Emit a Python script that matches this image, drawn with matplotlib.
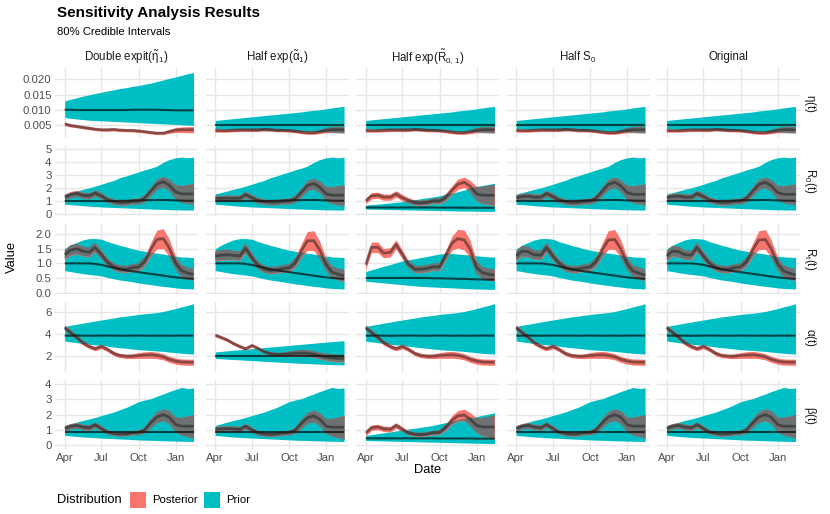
import matplotlib
matplotlib.use("Agg")
import matplotlib.pyplot as plt
import matplotlib.dates as mdates
from matplotlib.patches import Rectangle
import numpy as np
import pandas as pd

plt.rcParams["font.family"] = ["Liberation Sans", "DejaVu Sans"]
plt.rcParams["mathtext.fontset"] = "custom"
plt.rcParams["mathtext.rm"] = "Liberation Sans"
plt.rcParams["mathtext.it"] = "Liberation Sans:italic"
plt.rcParams["mathtext.bf"] = "Liberation Sans:bold"

# ---- data (semi-monthly) ----
dates = pd.to_datetime([
    "2020-04-01", "2020-04-15", "2020-05-01", "2020-05-15", "2020-06-01", "2020-06-15",
    "2020-07-01", "2020-07-15", "2020-08-01", "2020-08-15", "2020-09-01", "2020-09-15",
    "2020-10-01", "2020-10-15", "2020-11-01", "2020-11-15", "2020-12-01", "2020-12-15",
    "2021-01-01", "2021-01-15", "2021-02-01", "2021-02-14"])

col_labels = [r"Double expit$(\tilde{\mathrm{\eta}}_1)$", r"Half exp$(\tilde{\mathrm{\alpha}}_1)$",
              r"Half exp$(\tilde{\mathrm{R}}_{\mathrm{0,\,1}})$", r"Half $\mathrm{S_0}$", "Original"]
row_labels = [r"$\mathrm{\eta(t)}$", r"$\mathrm{R_0(t)}$", r"$\mathrm{R_t(t)}$",
              r"$\mathrm{\alpha(t)}$", r"$\mathrm{\beta(t)}$"]

# eta(t)
prior_eta_de_mid = [0.0101, 0.0101, 0.0100, 0.0100, 0.0100, 0.0100, 0.0100, 0.0100, 0.0100, 0.0100, 0.0100,
                    0.0101, 0.0101, 0.0101, 0.0101, 0.0101, 0.0100, 0.0100, 0.0099, 0.0099, 0.0099, 0.0099]
prior_eta_de_lo = [0.0076, 0.0073, 0.0071, 0.0069, 0.0067, 0.0066, 0.0065, 0.0064, 0.0063, 0.0062, 0.0061,
                   0.0060, 0.0059, 0.0058, 0.0057, 0.0056, 0.0055, 0.0054, 0.0053, 0.0052, 0.0051, 0.0050]
prior_eta_de_hi = [0.0130, 0.0135, 0.0140, 0.0145, 0.0150, 0.0154, 0.0158, 0.0162, 0.0166, 0.0170, 0.0173,
                   0.0177, 0.0180, 0.0184, 0.0188, 0.0193, 0.0198, 0.0203, 0.0208, 0.0213, 0.0219, 0.0222]
post_eta_de_mid = [0.0055, 0.0050, 0.0047, 0.0044, 0.0041, 0.0038, 0.0036, 0.0036, 0.0037, 0.0035, 0.0034,
                   0.0034, 0.0032, 0.0030, 0.0027, 0.0025, 0.0025, 0.0030, 0.0035, 0.0036, 0.0036, 0.0036]
prior_eta_mid = [0.0050] * 22
prior_eta_lo = [0.0039, 0.0038, 0.0037, 0.0036, 0.0036, 0.0035, 0.0034, 0.0034, 0.0033, 0.0033, 0.0032,
                0.0031, 0.0031, 0.0030, 0.0030, 0.0029, 0.0028, 0.0028, 0.0027, 0.0026, 0.0026, 0.0025]
prior_eta_hi = [0.0066, 0.0068, 0.0070, 0.0072, 0.0074, 0.0076, 0.0078, 0.0080, 0.0082, 0.0084, 0.0086,
                0.0088, 0.0090, 0.0092, 0.0094, 0.0097, 0.0099, 0.0101, 0.0104, 0.0107, 0.0110, 0.0112]
post_eta_mid = [0.0034, 0.0033, 0.0033, 0.0034, 0.0035, 0.0035, 0.0035, 0.0035, 0.0037, 0.0036, 0.0034,
                0.0034, 0.0033, 0.0031, 0.0028, 0.0026, 0.0026, 0.0029, 0.0034, 0.0036, 0.0036, 0.0036]
w_eta = [0.0006, 0.0005, 0.0005, 0.0005, 0.0005, 0.0005, 0.0005, 0.0005, 0.0005, 0.0005, 0.0005,
         0.0005, 0.0005, 0.0005, 0.0005, 0.0005, 0.0005, 0.0006, 0.0008, 0.0009, 0.0010, 0.0010]

# R0(t)
prior_r0_mid = [1.00, 1.00, 1.00, 1.00, 1.00, 1.00, 1.00, 1.00, 1.00, 1.01, 1.02,
                1.03, 1.05, 1.06, 1.07, 1.08, 1.08, 1.07, 1.05, 1.03, 1.02, 1.02]
prior_r0_lo = [0.75, 0.72, 0.68, 0.64, 0.60, 0.57, 0.54, 0.52, 0.50, 0.48, 0.46,
               0.44, 0.42, 0.40, 0.38, 0.36, 0.35, 0.33, 0.32, 0.31, 0.30, 0.30]
prior_r0_hi = [1.55, 1.65, 1.78, 1.90, 2.02, 2.15, 2.30, 2.45, 2.60, 2.80, 2.95,
               3.10, 3.25, 3.40, 3.55, 3.70, 4.00, 4.20, 4.35, 4.40, 4.35, 4.40]
post_r0_de_mid = [1.30, 1.50, 1.60, 1.45, 1.40, 1.62, 1.40, 1.12, 0.95, 0.88, 0.90,
                  0.98, 1.00, 1.20, 1.80, 2.30, 2.50, 2.25, 1.70, 1.55, 1.55, 1.55]
post_r0_mid = [1.25, 1.35, 1.38, 1.30, 1.30, 1.58, 1.35, 1.10, 0.95, 0.88, 0.90,
               0.98, 1.00, 1.20, 1.80, 2.28, 2.45, 2.20, 1.65, 1.52, 1.52, 1.52]
post_r0_ha_mid = [1.20, 1.20, 1.22, 1.20, 1.22, 1.50, 1.25, 1.05, 0.95, 0.90, 0.92,
                  0.98, 1.00, 1.15, 1.70, 2.20, 2.35, 2.10, 1.55, 1.45, 1.45, 1.45]
prior_r0_hr_mid = [0.50, 0.50, 0.50, 0.50, 0.50, 0.50, 0.50, 0.50, 0.50, 0.50, 0.50,
                   0.50, 0.49, 0.49, 0.49, 0.49, 0.48, 0.48, 0.48, 0.48, 0.48, 0.48]
prior_r0_hr_lo = [0.38, 0.37, 0.36, 0.35, 0.34, 0.33, 0.32, 0.31, 0.30, 0.29, 0.28,
                  0.27, 0.26, 0.25, 0.24, 0.23, 0.22, 0.22, 0.21, 0.20, 0.20, 0.20]
prior_r0_hr_hi = [0.68, 0.72, 0.76, 0.80, 0.85, 0.90, 0.95, 1.02, 1.10, 1.18, 1.25,
                  1.32, 1.40, 1.50, 1.60, 1.72, 1.85, 1.98, 2.10, 2.20, 2.30, 2.38]
post_r0_hr_mid = [1.00, 1.40, 1.45, 1.30, 1.30, 1.55, 1.25, 1.05, 0.88, 0.85, 0.90,
                  1.00, 1.00, 1.25, 1.85, 2.30, 2.45, 2.15, 1.55, 1.45, 1.45, 1.45]
w_r0 = [0.22, 0.24, 0.24, 0.24, 0.24, 0.25, 0.24, 0.22, 0.20, 0.20, 0.20,
        0.20, 0.22, 0.28, 0.34, 0.40, 0.40, 0.45, 0.55, 0.65, 0.75, 0.80]

# Rt(t)
prior_rt_mid = [1.00, 1.00, 1.00, 1.00, 1.00, 0.98, 0.95, 0.90, 0.85, 0.80, 0.76,
                0.73, 0.70, 0.67, 0.64, 0.61, 0.58, 0.55, 0.52, 0.50, 0.48, 0.47]
prior_rt_lo = [0.75, 0.72, 0.68, 0.65, 0.62, 0.60, 0.57, 0.52, 0.47, 0.43, 0.40,
               0.37, 0.33, 0.30, 0.27, 0.24, 0.21, 0.19, 0.16, 0.14, 0.13, 0.12]
prior_rt_hi = [1.50, 1.62, 1.72, 1.80, 1.85, 1.85, 1.83, 1.75, 1.68, 1.62, 1.56,
               1.50, 1.45, 1.42, 1.38, 1.35, 1.32, 1.28, 1.25, 1.22, 1.21, 1.20]
post_rt_de_mid = [1.30, 1.45, 1.50, 1.42, 1.38, 1.55, 1.30, 1.05, 0.88, 0.82, 0.80,
                  0.85, 0.88, 1.05, 1.50, 1.82, 1.85, 1.55, 1.00, 0.75, 0.66, 0.62]
post_rt_mid = [1.25, 1.42, 1.40, 1.30, 1.28, 1.55, 1.25, 1.02, 0.85, 0.80, 0.80,
               0.85, 0.88, 1.05, 1.48, 1.80, 1.82, 1.52, 0.98, 0.74, 0.65, 0.60]
post_rt_ha_mid = [1.25, 1.28, 1.30, 1.28, 1.25, 1.52, 1.20, 0.95, 0.80, 0.76, 0.78,
                  0.82, 0.85, 1.00, 1.45, 1.77, 1.78, 1.48, 0.95, 0.70, 0.62, 0.58]
prior_rt_hr_mid = [0.50, 0.50, 0.50, 0.50, 0.50, 0.50, 0.50, 0.50, 0.50, 0.50, 0.50,
                   0.49, 0.49, 0.48, 0.48, 0.47, 0.47, 0.46, 0.45, 0.45, 0.44, 0.44]
prior_rt_hr_lo = [0.39, 0.37, 0.35, 0.33, 0.31, 0.29, 0.27, 0.25, 0.23, 0.21, 0.20,
                  0.19, 0.18, 0.17, 0.16, 0.15, 0.14, 0.13, 0.12, 0.12, 0.11, 0.11]
prior_rt_hr_hi = [0.72, 0.78, 0.84, 0.90, 0.96, 1.02, 1.08, 1.12, 1.16, 1.20, 1.24,
                  1.28, 1.32, 1.34, 1.34, 1.32, 1.30, 1.28, 1.26, 1.24, 1.22, 1.22]
post_rt_hr_mid = [0.95, 1.55, 1.55, 1.35, 1.38, 1.65, 1.30, 0.98, 0.80, 0.80, 0.83,
                  0.88, 0.88, 1.25, 1.70, 1.85, 1.80, 1.50, 0.85, 0.68, 0.62, 0.60]
w_rt = [0.16, 0.18, 0.18, 0.16, 0.16, 0.16, 0.15, 0.13, 0.12, 0.12, 0.12,
        0.12, 0.13, 0.16, 0.24, 0.32, 0.34, 0.30, 0.22, 0.20, 0.20, 0.20]

# alpha(t)
prior_al_mid = [3.85, 3.85, 3.86, 3.85, 3.84, 3.85, 3.85, 3.86, 3.85, 3.85, 3.84,
                3.85, 3.86, 3.85, 3.84, 3.85, 3.85, 3.84, 3.85, 3.86, 3.85, 3.85]
prior_al_lo = [3.35, 3.28, 3.20, 3.12, 3.05, 3.00, 2.95, 2.88, 2.80, 2.74, 2.68,
               2.62, 2.56, 2.52, 2.48, 2.44, 2.40, 2.34, 2.28, 2.22, 2.18, 2.15]
prior_al_hi = [4.70, 4.80, 4.90, 5.00, 5.10, 5.20, 5.29, 5.38, 5.48, 5.58, 5.65,
               5.72, 5.80, 5.86, 5.92, 5.98, 6.08, 6.20, 6.35, 6.50, 6.65, 6.80]
post_al_mid = [4.60, 4.15, 3.70, 3.20, 2.85, 2.65, 2.85, 2.60, 2.20, 2.02, 1.95,
               1.95, 2.02, 2.06, 2.08, 2.03, 1.90, 1.68, 1.50, 1.42, 1.40, 1.40]
w_al = [0.24, 0.22, 0.20, 0.20, 0.20, 0.20, 0.20, 0.20, 0.20, 0.20, 0.20,
        0.22, 0.26, 0.30, 0.32, 0.30, 0.28, 0.28, 0.28, 0.28, 0.28, 0.28]
prior_al_ha_mid = [1.95] * 22
prior_al_ha_lo = [1.75, 1.72, 1.68, 1.65, 1.62, 1.58, 1.55, 1.52, 1.48, 1.45, 1.42,
                  1.39, 1.36, 1.33, 1.30, 1.28, 1.25, 1.23, 1.20, 1.18, 1.16, 1.15]
prior_al_ha_hi = [2.35, 2.40, 2.45, 2.50, 2.55, 2.60, 2.65, 2.70, 2.75, 2.80, 2.85,
                  2.90, 2.95, 3.00, 3.05, 3.10, 3.15, 3.20, 3.25, 3.30, 3.35, 3.38]
post_al_ha_mid = [3.90, 3.70, 3.45, 3.15, 2.85, 2.65, 2.95, 2.70, 2.35, 2.20, 2.12,
                  2.12, 2.18, 2.22, 2.25, 2.22, 2.15, 2.00, 1.88, 1.80, 1.75, 1.75]
w_al_ha = [0.16, 0.15, 0.15, 0.15, 0.15, 0.15, 0.15, 0.15, 0.15, 0.15, 0.15,
           0.18, 0.22, 0.26, 0.30, 0.30, 0.30, 0.30, 0.32, 0.32, 0.32, 0.32]

# beta(t)
prior_be_mid = [0.89] * 22
prior_be_lo = [0.65, 0.62, 0.58, 0.55, 0.52, 0.50, 0.48, 0.46, 0.44, 0.42, 0.40,
               0.38, 0.36, 0.34, 0.33, 0.32, 0.30, 0.29, 0.28, 0.27, 0.26, 0.25]
prior_be_hi = [1.30, 1.40, 1.52, 1.62, 1.72, 1.82, 1.95, 2.05, 2.18, 2.32, 2.48,
               2.65, 2.85, 2.95, 3.05, 3.20, 3.35, 3.50, 3.65, 3.78, 3.70, 3.75]
post_be_mid = [1.10, 1.25, 1.30, 1.20, 1.15, 1.35, 1.10, 0.88, 0.78, 0.74, 0.76,
               0.82, 0.85, 1.00, 1.50, 1.85, 2.00, 1.85, 1.35, 1.25, 1.25, 1.25]
post_be_ha_mid = [1.05, 1.08, 1.10, 1.08, 1.05, 1.25, 1.02, 0.82, 0.74, 0.72, 0.75,
                  0.80, 0.84, 0.98, 1.45, 1.80, 1.92, 1.72, 1.25, 1.18, 1.18, 1.18]
prior_be_hr_mid = [0.46, 0.46, 0.46, 0.46, 0.46, 0.46, 0.46, 0.46, 0.46, 0.46, 0.46,
                   0.46, 0.45, 0.45, 0.45, 0.45, 0.45, 0.45, 0.44, 0.44, 0.44, 0.44]
prior_be_hr_lo = [0.32, 0.31, 0.30, 0.29, 0.28, 0.27, 0.26, 0.25, 0.24, 0.23, 0.22,
                  0.21, 0.20, 0.19, 0.18, 0.17, 0.16, 0.15, 0.14, 0.13, 0.12, 0.12]
prior_be_hr_hi = [0.65, 0.70, 0.76, 0.82, 0.88, 0.94, 1.00, 1.06, 1.12, 1.18, 1.24,
                  1.30, 1.40, 1.48, 1.56, 1.64, 1.72, 1.80, 1.88, 1.96, 2.05, 2.12]
post_be_hr_mid = [0.80, 1.15, 1.20, 1.08, 1.05, 1.30, 1.05, 0.82, 0.72, 0.70, 0.75,
                  0.82, 0.85, 1.15, 1.65, 1.92, 1.98, 1.72, 1.30, 1.20, 1.20, 1.20]
w_be = [0.18, 0.18, 0.18, 0.18, 0.18, 0.18, 0.16, 0.14, 0.13, 0.13, 0.13,
        0.13, 0.15, 0.20, 0.30, 0.35, 0.38, 0.42, 0.48, 0.58, 0.68, 0.78]

# which series go in which panel: (prior mid, lo, hi), (posterior mid, half width)
P_eta_de = (prior_eta_de_mid, prior_eta_de_lo, prior_eta_de_hi)
P_eta = (prior_eta_mid, prior_eta_lo, prior_eta_hi)
P_r0 = (prior_r0_mid, prior_r0_lo, prior_r0_hi)
P_r0_hr = (prior_r0_hr_mid, prior_r0_hr_lo, prior_r0_hr_hi)
P_rt = (prior_rt_mid, prior_rt_lo, prior_rt_hi)
P_rt_hr = (prior_rt_hr_mid, prior_rt_hr_lo, prior_rt_hr_hi)
P_al = (prior_al_mid, prior_al_lo, prior_al_hi)
P_al_ha = (prior_al_ha_mid, prior_al_ha_lo, prior_al_ha_hi)
P_be = (prior_be_mid, prior_be_lo, prior_be_hi)
P_be_hr = (prior_be_hr_mid, prior_be_hr_lo, prior_be_hr_hi)

panels = [
    [(P_eta_de, (post_eta_de_mid, w_eta)), (P_eta, (post_eta_mid, w_eta)), (P_eta, (post_eta_mid, w_eta)),
     (P_eta, (post_eta_mid, w_eta)), (P_eta, (post_eta_mid, w_eta))],
    [(P_r0, (post_r0_de_mid, w_r0)), (P_r0, (post_r0_ha_mid, w_r0)), (P_r0_hr, (post_r0_hr_mid, w_r0)),
     (P_r0, (post_r0_mid, w_r0)), (P_r0, (post_r0_mid, w_r0))],
    [(P_rt, (post_rt_de_mid, w_rt)), (P_rt, (post_rt_ha_mid, w_rt)), (P_rt_hr, (post_rt_hr_mid, w_rt)),
     (P_rt, (post_rt_mid, w_rt)), (P_rt, (post_rt_mid, w_rt))],
    [(P_al, (post_al_mid, w_al)), (P_al_ha, (post_al_ha_mid, w_al_ha)), (P_al, (post_al_mid, w_al)),
     (P_al, (post_al_mid, w_al)), (P_al, (post_al_mid, w_al))],
    [(P_be, (post_be_mid, w_be)), (P_be, (post_be_ha_mid, w_be)), (P_be_hr, (post_be_hr_mid, w_be)),
     (P_be, (post_be_mid, w_be)), (P_be, (post_be_mid, w_be))],
]

y_ticks = [[0.005, 0.010, 0.015, 0.020], [0, 1, 2, 3, 4, 5], [0.0, 0.5, 1.0, 1.5, 2.0], [2, 4, 6], [0, 1, 2, 3, 4]]
y_fmt = ["{:.3f}", "{:.0f}", "{:.1f}", "{:.0f}", "{:.0f}"]
y_lims = [(0.0009, 0.0237), (-0.16, 5.26), (-0.05, 2.35), (0.5, 6.95), (-0.3, 4.26)]

# ---- layout ----
W, H = 830, 514
PRIOR_C = "#00BFC4"
POST_C = "#F8766D"
OVER_C = "#6d7171"
GRID_C = "#e6e6e6"

fig = plt.figure(figsize=(W / 100, H / 100), dpi=100)

col_left = [55, 205.5, 356, 506.5, 657]
row_top = [68, 146, 224, 302, 380]
pw, ph = 143, 70

def box(l, t, w, h):
    return [l / W, 1 - (t + h) / H, w / W, h / H]

xticks = pd.to_datetime(["2020-04-01", "2020-07-01", "2020-10-01", "2021-01-01"])

for r in range(5):
    for c in range(5):
        ax = fig.add_axes(box(col_left[c], row_top[r], pw, ph))
        (pm, plo, phi), (qm, qw) = panels[r][c]
        pm, plo, phi = np.array(pm), np.array(plo), np.array(phi)
        qm, qw = np.array(qm), np.array(qw)
        qlo, qhi = qm - qw, qm + qw

        ax.fill_between(dates, plo, phi, color=PRIOR_C, lw=0, zorder=2)
        ax.fill_between(dates, qlo, qhi, color=POST_C, lw=0, zorder=3)
        olo = np.maximum(qlo, plo)
        ohi = np.minimum(qhi, phi)
        ax.fill_between(dates, olo, ohi, where=ohi > olo, interpolate=True, color=OVER_C, lw=0, zorder=4)
        ax.plot(dates, pm, color="black", alpha=0.65, lw=1.5, zorder=5, solid_capstyle="butt")
        ax.plot(dates, qm, color="#1a1a1a", alpha=0.5, lw=2.0, zorder=6, solid_capstyle="butt")

        ax.set_xlim(pd.Timestamp("2020-03-08"), pd.Timestamp("2021-02-25"))
        ax.set_ylim(*y_lims[r])
        ax.set_xticks(xticks)
        ax.set_yticks(y_ticks[r])
        ax.grid(True, color=GRID_C, lw=1.0, zorder=0)
        ax.set_axisbelow(True)
        for s in ax.spines.values():
            s.set_visible(False)
        ax.tick_params(length=0, labelsize=8.2, labelcolor="#4d4d4d", pad=2.5)
        if c == 0:
            ax.set_yticklabels([y_fmt[r].format(v) for v in y_ticks[r]])
        else:
            ax.set_yticklabels([])
        if r == 4:
            ax.xaxis.set_major_formatter(mdates.DateFormatter("%b"))
        else:
            ax.set_xticklabels([])

        if r == 0:
            fig.text((col_left[c] + pw / 2) / W, 1 - 57 / H, col_labels[c], ha="center", va="center",
                     fontsize=8.3, color="#1a1a1a")
        if c == 4:
            fig.text(810 / W, 1 - (row_top[r] + ph / 2) / H, row_labels[r], ha="center", va="center",
                     rotation=-90, fontsize=8.3, color="#1a1a1a")

fig.text(57 / W, 1 - 13 / H, "Sensitivity Analysis Results", ha="left", va="center",
         fontsize=11, fontweight="bold", color="black")
fig.text(57 / W, 1 - 32 / H, "80% Credible Intervals", ha="left", va="center", fontsize=8.1, color="black")
fig.text(12 / W, 1 - 257 / H, "Value", ha="center", va="center", rotation=90, fontsize=9.3)
fig.text(428 / W, 1 - 470 / H, "Date", ha="center", va="center", fontsize=9.3)

# legend
fig.text(57 / W, 1 - 500 / H, "Distribution", ha="left", va="center", fontsize=9.3)
fig.patches.append(Rectangle((129.5 / W, 1 - 508 / H), 16 / W, 16 / H, transform=fig.transFigure,
                             facecolor=POST_C, edgecolor="none"))
fig.text(152 / W, 1 - 500 / H, "Posterior", ha="left", va="center", fontsize=8.2)
fig.patches.append(Rectangle((203.5 / W, 1 - 508 / H), 16 / W, 16 / H, transform=fig.transFigure,
                             facecolor=PRIOR_C, edgecolor="none"))
fig.text(226 / W, 1 - 500 / H, "Prior", ha="left", va="center", fontsize=8.2)

fig.savefig("out.png", dpi=100)
